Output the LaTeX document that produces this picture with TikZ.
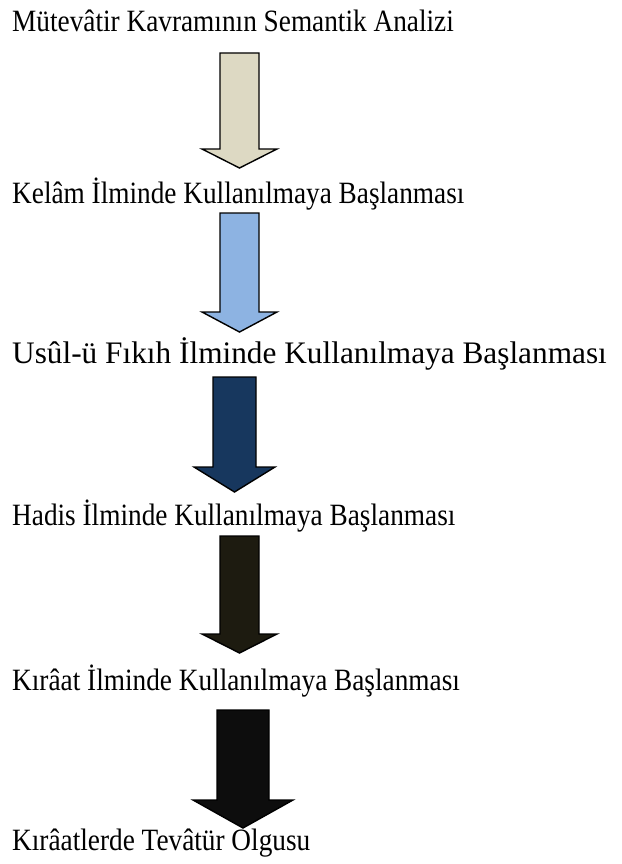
\documentclass[tikz,border=0pt]{standalone}
\usepackage{fontspec}
\setmainfont{Liberation Serif}[FakeStretch=0.88]
\newfontfamily\widefont{Liberation Serif}
\definecolor{cA}{HTML}{DDD9C3}
\definecolor{cB}{HTML}{8DB3E2}
\definecolor{cC}{HTML}{17375E}
\definecolor{cD}{HTML}{1D1B10}
\definecolor{cE}{HTML}{0D0D0D}
\newcommand{\blockarrow}[8]{% fill, xl, xr, top, base, hl, hr, tip
  \draw[blockarr, fill=#1] (#2,#4) -- (#3,#4) -- (#3,#5) -- (#7,#5) -- ({(#2+#3)/2},#8) -- (#6,#5) -- (#2,#5) -- cycle;}
\begin{document}
\begin{tikzpicture}[x=1pt,y=-1pt,
  lbl/.style={anchor=base west, inner sep=0pt, font=\fontsize{31}{36}\selectfont},
  widelbl/.style={lbl, font=\widefont\fontsize{31.3}{36}\selectfont},
  blockarr/.style={draw=black, line width=1.4pt, line join=miter}]
\useasboundingbox (0,0) rectangle (621,864);
\node[lbl] (t1) at (12,32) {Mütevâtir Kavramının Semantik Analizi};
\node[lbl] (t2) at (12,203) {Kelâm İlminde Kullanılmaya Başlanması};
\node[widelbl] (t3) at (12,363) {Usûl-ü Fıkıh İlminde Kullanılmaya Başlanması};
\node[lbl] (t4) at (12,525) {Hadis İlminde Kullanılmaya Başlanması};
\node[lbl] (t5) at (12,690) {Kırâat İlminde Kullanılmaya Başlanması};
\node[lbl] (t6) at (12,850) {Kırâatlerde Tevâtür Olgusu};
\blockarrow{cA}{220}{259}{53}{149}{202}{277}{168}
\blockarrow{cB}{220}{259}{213}{312}{202}{277}{332}
\blockarrow{cC}{213}{256}{377}{467}{194}{275}{492}
\blockarrow{cD}{220}{259}{536}{634}{202}{277}{653}
\blockarrow{cE}{217}{269}{710}{800}{193}{293}{828}
\end{tikzpicture}
\end{document}
